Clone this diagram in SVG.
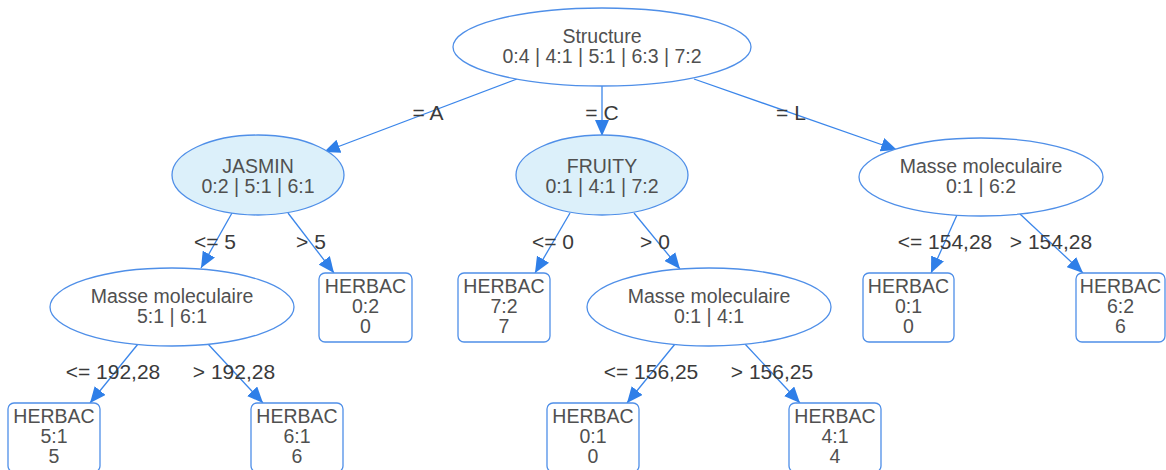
<svg xmlns="http://www.w3.org/2000/svg" width="1166" height="470" viewBox="0 0 1166 470">
<style>
  .ell { fill: #ffffff; stroke: #4f8fe8; stroke-width: 1.3; }
  .ell.hl { fill: #dcf0fa; }
  .leaf { fill: #ffffff; stroke: #4f8fe8; stroke-width: 1.3; }
  .nt { font-family: "Liberation Sans", Arial, sans-serif; font-size: 19.5px; fill: #505050; text-anchor: middle; }
  .el { font-family: "Liberation Sans", Arial, sans-serif; font-size: 21px; fill: #3a3a3a; text-anchor: middle; }
  .edge { stroke: #3b86ea; stroke-width: 1.3; fill: none; marker-end: url(#arr); }
</style>
<defs>
  <marker id="arr" markerUnits="userSpaceOnUse" markerWidth="18" markerHeight="14" refX="16" refY="7" orient="auto">
    <path d="M0,0 L16,7 L0,14 Z" fill="#2f7fe8"/>
  </marker>
</defs>
<rect width="1166" height="470" fill="#ffffff"/>
<g id="connectors">
  <line class="edge" x1="517" y1="79" x2="324" y2="152"/>
  <line class="edge" x1="602" y1="86" x2="602" y2="136"/>
  <line class="edge" x1="694" y1="79" x2="897" y2="150"/>
  <line class="edge" x1="232" y1="213" x2="201" y2="268"/>
  <line class="edge" x1="288" y1="213" x2="334" y2="273"/>
  <line class="edge" x1="570" y1="213" x2="535" y2="273"/>
  <line class="edge" x1="634" y1="213" x2="680" y2="269"/>
  <line class="edge" x1="957" y1="215" x2="931" y2="273"/>
  <line class="edge" x1="1020" y1="214" x2="1083" y2="273"/>
  <line class="edge" x1="138" y1="344" x2="90" y2="403"/>
  <line class="edge" x1="208" y1="344" x2="263" y2="403"/>
  <line class="edge" x1="675" y1="344" x2="627" y2="403"/>
  <line class="edge" x1="745" y1="344" x2="800" y2="403"/>
  <text class="el" x="428" y="120">= A</text>
  <text class="el" x="602" y="120">= C</text>
  <text class="el" x="791" y="120">= L</text>
  <text class="el" x="215" y="249">&lt;= 5</text>
  <text class="el" x="311" y="249">&gt; 5</text>
  <text class="el" x="553" y="249">&lt;= 0</text>
  <text class="el" x="655" y="249">&gt; 0</text>
  <text class="el" x="945" y="249">&lt;= 154,28</text>
  <text class="el" x="1051" y="249">&gt; 154,28</text>
  <text class="el" x="113" y="379">&lt;= 192,28</text>
  <text class="el" x="234" y="379">&gt; 192,28</text>
  <text class="el" x="651" y="379">&lt;= 156,25</text>
  <text class="el" x="772" y="379">&gt; 156,25</text>
</g>
<g id="root">
  <ellipse class="ell" cx="602" cy="47" rx="149" ry="39"/>
  <text class="nt" x="602" y="43">Structure</text>
  <text class="nt" x="602" y="63">0:4 | 4:1 | 5:1 | 6:3 | 7:2</text>
</g>
<g id="jasmin">
  <ellipse class="ell hl" cx="258" cy="175" rx="86" ry="40"/>
  <text class="nt" x="258" y="173">JASMIN</text>
  <text class="nt" x="258" y="193">0:2 | 5:1 | 6:1</text>
</g>
<g id="fruity">
  <ellipse class="ell hl" cx="602" cy="175" rx="86" ry="40"/>
  <text class="nt" x="602" y="173">FRUITY</text>
  <text class="nt" x="602" y="193">0:1 | 4:1 | 7:2</text>
</g>
<g id="masse-right">
  <ellipse class="ell" cx="981" cy="177" rx="122" ry="39"/>
  <text class="nt" x="981" y="173">Masse moleculaire</text>
  <text class="nt" x="981" y="193">0:1 | 6:2</text>
</g>
<g id="masse-left">
  <ellipse class="ell" cx="172" cy="307" rx="122" ry="39"/>
  <text class="nt" x="172" y="303">Masse moleculaire</text>
  <text class="nt" x="172" y="323">5:1 | 6:1</text>
</g>
<g id="masse-mid">
  <ellipse class="ell" cx="709" cy="307" rx="122" ry="39"/>
  <text class="nt" x="709" y="303">Masse moleculaire</text>
  <text class="nt" x="709" y="323">0:1 | 4:1</text>
</g>
<g id="leaf-jasmin-gt5">
  <rect class="leaf" x="319" y="273" width="93" height="69" rx="6"/>
  <text class="nt" x="365.5" y="293">HERBAC</text>
  <text class="nt" x="365.5" y="313">0:2</text>
  <text class="nt" x="365.5" y="333">0</text>
</g>
<g id="leaf-fruity-le0">
  <rect class="leaf" x="458" y="273" width="92" height="69" rx="6"/>
  <text class="nt" x="504" y="293">HERBAC</text>
  <text class="nt" x="504" y="313">7:2</text>
  <text class="nt" x="504" y="333">7</text>
</g>
<g id="leaf-right-le">
  <rect class="leaf" x="863" y="273" width="91" height="69" rx="6"/>
  <text class="nt" x="908.5" y="293">HERBAC</text>
  <text class="nt" x="908.5" y="313">0:1</text>
  <text class="nt" x="908.5" y="333">0</text>
</g>
<g id="leaf-right-gt">
  <rect class="leaf" x="1076" y="273" width="89" height="69" rx="6"/>
  <text class="nt" x="1120.5" y="293">HERBAC</text>
  <text class="nt" x="1120.5" y="313">6:2</text>
  <text class="nt" x="1120.5" y="333">6</text>
</g>
<g id="leaf-left-le">
  <rect class="leaf" x="8" y="403" width="92" height="69" rx="6"/>
  <text class="nt" x="54" y="423">HERBAC</text>
  <text class="nt" x="54" y="443">5:1</text>
  <text class="nt" x="54" y="463">5</text>
</g>
<g id="leaf-left-gt">
  <rect class="leaf" x="251" y="403" width="92" height="69" rx="6"/>
  <text class="nt" x="297" y="423">HERBAC</text>
  <text class="nt" x="297" y="443">6:1</text>
  <text class="nt" x="297" y="463">6</text>
</g>
<g id="leaf-mid-le">
  <rect class="leaf" x="547" y="403" width="92" height="69" rx="6"/>
  <text class="nt" x="593" y="423">HERBAC</text>
  <text class="nt" x="593" y="443">0:1</text>
  <text class="nt" x="593" y="463">0</text>
</g>
<g id="leaf-mid-gt">
  <rect class="leaf" x="789" y="403" width="92" height="69" rx="6"/>
  <text class="nt" x="835" y="423">HERBAC</text>
  <text class="nt" x="835" y="463">4</text>
  <text class="nt" x="835" y="443">4:1</text>
</g>
</svg>
